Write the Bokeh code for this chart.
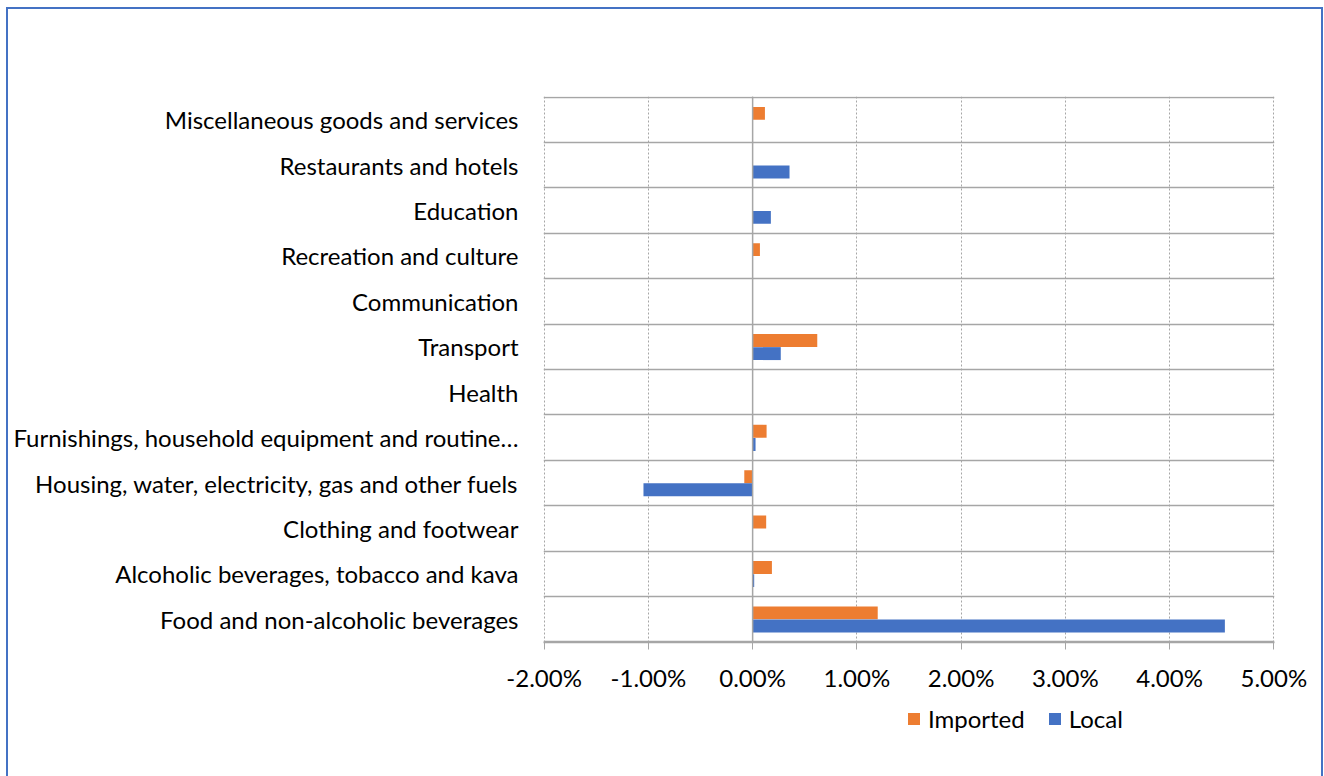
import numpy as np
from bokeh.plotting import figure
from bokeh.layouts import column
from bokeh.models import (FixedTicker, Span, Legend, LegendItem, Range1d, InlineStyleSheet)
from bokeh.embed import file_html
from bokeh.resources import INLINE

categories = [
    "Food and non-alcoholic beverages",
    "Alcoholic beverages, tobacco and kava",
    "Clothing and footwear",
    "Housing, water, electricity, gas and other fuels",
    "Furnishings, household equipment and routine\u2026",
    "Health",
    "Transport",
    "Communication",
    "Recreation and culture",
    "Education",
    "Restaurants and hotels",
    "Miscellaneous goods and services",
]
imported = [1.20, 0.185, 0.13, -0.08, 0.134, 0.0, 0.62, 0.0, 0.07, 0.0, 0.0, 0.118]
local = [4.53, 0.015, 0.0, -1.047, 0.028, 0.0, 0.27, 0.0, 0.0, 0.175, 0.354, 0.0]
series_names = ["Imported", "Local"]
x_ticks = [-2, -1, 0, 1, 2, 3, 4, 5]

FONT = "Lato"
FS = "24px"
ORANGE = "#ED7D31"
BLUE = "#4472C4"
GRID = "#a6a6a6"

n = len(categories)
centers = np.arange(n) + 0.5

border_top = InlineStyleSheet(css="""
:host { position: relative; }
:host::after {
  content: ""; position: absolute; left: 6px; top: 7px; right: 1px; bottom: 0px;
  border-left: 2.5px solid #4472C4; border-top: 2.5px solid #4472C4;
  border-right: 2.5px solid #4472C4;
  pointer-events: none; z-index: 100;
}
""")
border_bottom = InlineStyleSheet(css="""
:host { position: relative; }
:host::after {
  content: ""; position: absolute; left: 6px; top: 0px; right: 1px; bottom: -4px;
  border-left: 2.5px solid #4472C4; border-right: 2.5px solid #4472C4;
  pointer-events: none; z-index: 100;
}
""")

p = figure(output_backend="svg", toolbar_location=None,
           frame_width=731, frame_height=546,
           min_border_left=543, min_border_right=50,
           min_border_top=96, min_border_bottom=60,
           x_range=Range1d(-2.006, 5.006), y_range=Range1d(-0.012, n + 0.012))
p.outline_line_color = None
p.background_fill_color = "white"
p.border_fill_color = "white"
p.stylesheets = [border_top]

bar_h = 0.285
p.hbar(y=centers + 0.14, left=0, right=imported, height=bar_h,
       fill_color=ORANGE, line_color=None)
p.hbar(y=centers - 0.15, left=0, right=local, height=bar_h,
       fill_color=BLUE, line_color=None)

# x axis
p.xaxis.ticker = FixedTicker(ticks=x_ticks)
p.xaxis.major_label_overrides = {t: f"{t:.2f}%" for t in x_ticks}
p.xaxis.axis_line_color = GRID
p.xaxis.axis_line_width = 1.5
p.xaxis.major_tick_line_color = GRID
p.xaxis.major_tick_out = 7
p.xaxis.major_tick_in = 0
p.xaxis.minor_tick_line_color = None
p.xaxis.major_label_text_font = FONT
p.xaxis.major_label_text_font_size = FS
p.xaxis.major_label_text_color = "black"
p.xaxis.major_label_standoff = 13

# y axis
p.yaxis.ticker = FixedTicker(ticks=list(centers))
p.yaxis.major_label_overrides = {float(c): lab for c, lab in zip(centers, categories)}
p.yaxis.axis_line_color = None
p.yaxis.major_tick_line_color = None
p.yaxis.minor_tick_line_color = None
p.yaxis.major_tick_out = 0
p.yaxis.major_tick_in = 0
p.yaxis.major_label_standoff = 25
p.yaxis.major_label_text_font = FONT
p.yaxis.major_label_text_font_size = FS
p.yaxis.major_label_text_color = "black"

# grids
p.xgrid.ticker = FixedTicker(ticks=x_ticks)
p.xgrid.grid_line_color = GRID
p.xgrid.grid_line_dash = "2 2"
p.xgrid.grid_line_width = 1
p.ygrid.ticker = FixedTicker(ticks=list(range(n + 1)))
p.ygrid.grid_line_color = GRID
p.ygrid.grid_line_width = 1.5

p.add_layout(Span(location=0, dimension="height", line_color=GRID, line_width=1.5))

# legend strip (separate, frameless figure below the chart)
q = figure(output_backend="svg", toolbar_location=None, width=1324, height=74,
           min_border=0, x_axis_location=None, y_axis_location=None,
           x_range=Range1d(0, 1), y_range=Range1d(0, 1))
q.outline_line_color = None
q.grid.visible = False
q.background_fill_color = "white"
q.border_fill_color = "white"
q.stylesheets = [border_bottom]
# one hidden placeholder bar per series (outside the strip's range) so the legend draws its swatch
l_imp = q.hbar(y=[-5], left=[0], right=[0], height=0.1, fill_color=ORANGE, line_color=None)
l_loc = q.hbar(y=[-5], left=[0], right=[0], height=0.1, fill_color=BLUE, line_color=None)

legend = Legend(items=[LegendItem(label=series_names[0], renderers=[l_imp]),
                       LegendItem(label=series_names[1], renderers=[l_loc])],
                orientation="horizontal", location=(363, 43))
legend.glyph_width = 15
legend.glyph_height = 15
legend.label_text_font = FONT
legend.label_text_font_size = FS
legend.label_text_color = "black"
legend.label_standoff = 7
legend.spacing = 22
legend.border_line_color = None
legend.background_fill_alpha = 0
legend.padding = 2
legend.margin = 0
q.add_layout(legend, "center")

layout = column(p, q, spacing=0)
open("out.html", "w").write(file_html(layout, INLINE))
